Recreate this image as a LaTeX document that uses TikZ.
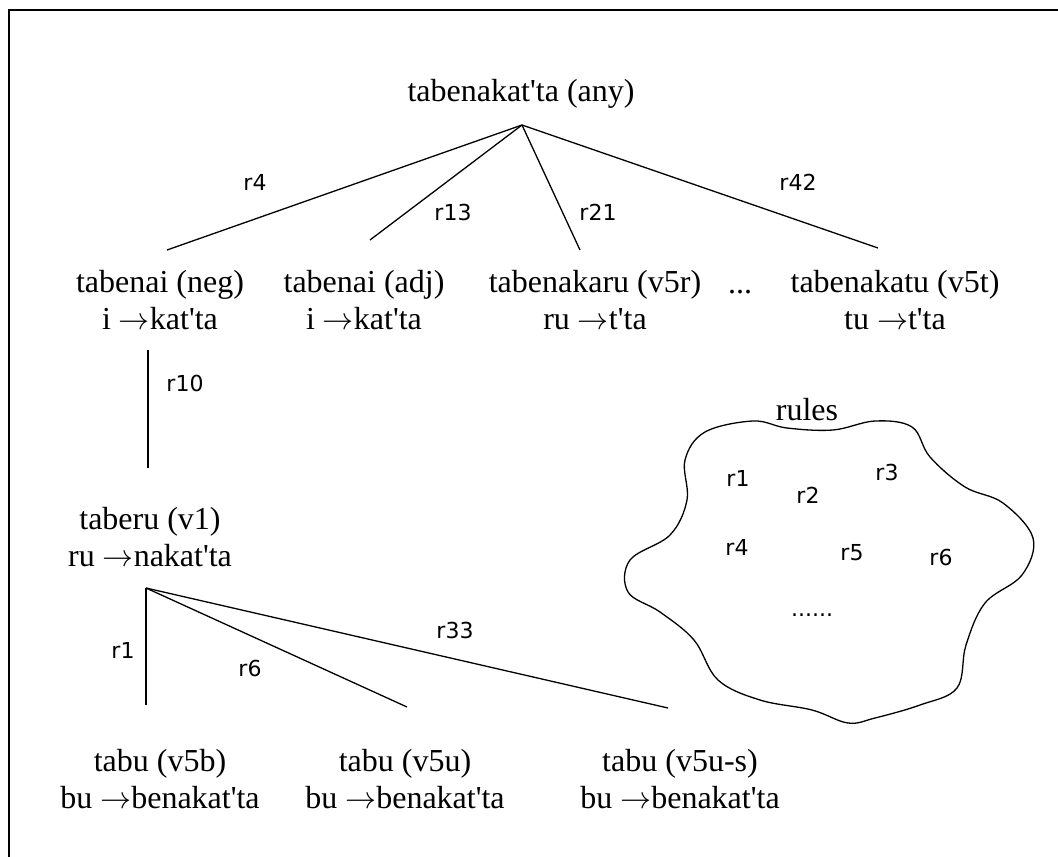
\documentclass[tikz,border=0pt]{standalone}
\usepackage{fontspec}
\setmainfont{Liberation Serif}[Ligatures=TeXOff]
\newfontfamily\rulefont{DejaVu Sans}
\newcommand{\becomes}{\scalebox{3.1}{\normalsize$\rightarrow$}}

\begin{document}
\begin{tikzpicture}[x=1pt, y=-1pt,
    word/.style={font=\fontsize{32}{37}\selectfont, align=center, inner sep=0pt},
    rname/.style={font=\rulefont\fontsize{22}{26}\selectfont, inner sep=0pt},
    branch/.style={line width=1.3pt}]
    \useasboundingbox (0,0) rectangle (1058,857);

    % frame (open on the right and at the bottom)
    \draw[line width=2.4pt] (9,857) -- (9,10) -- (1058,10);

    % Root form
    \node[word] (any) at (521,94) {tabenakat'ta (any)};
    \coordinate (top) at (522,125);

    % First level
    \node[word] (neg) at (160,300) {tabenai (neg)\\i \becomes kat'ta};
    \node[word] (adj) at (364,300) {tabenai (adj)\\i \becomes kat'ta};
    \node[word] (vfr) at (595,300) {tabenakaru (v5r)\\ru \becomes t'ta};
    \node[word] (dots) at (740,292) {...};
    \node[word] (vft) at (895,300) {tabenakatu (v5t)\\tu \becomes t'ta};

    \coordinate (negend) at (167,250);
    \coordinate (adjend) at (370,240);
    \coordinate (vfrend) at (580,250);
    \coordinate (vftend) at (878,248);
    \draw[branch] (top) -- (negend);
    \draw[branch] (top) -- (adjend);
    \draw[branch] (top) -- (vfrend);
    \draw[branch] (top) -- (vftend);
    \node[rname] (lfour) at (255,182) {r4};
    \node[rname] (lthirteen) at (453,212) {r13};
    \node[rname] (ltwentyone) at (598,212) {r21};
    \node[rname] (lfortytwo) at (798,182) {r42};

    % Second level
    \node[word] (vone) at (150,537) {taberu (v1)\\ru \becomes nakat'ta};
    \coordinate (negfoot) at (148,350);
    \coordinate (vonehead) at (148,468);
    \draw[branch] (negfoot) -- (vonehead);
    \node[rname] (lten) at (185,383) {r10};

    % Third level
    \coordinate (root2) at (146,588);
    \node[word] (vfb) at (160,779) {tabu (v5b)\\bu \becomes benakat'ta};
    \node[word] (vfu) at (405,779) {tabu (v5u)\\bu \becomes benakat'ta};
    \node[word] (vfus) at (680,779) {tabu (v5u-s)\\bu \becomes benakat'ta};

    \coordinate (vfbend) at (146,705);
    \coordinate (vfuend) at (407,707);
    \coordinate (vfusend) at (668,708);
    \draw[branch] (root2) -- (vfbend);
    \draw[branch] (root2) -- (vfuend);
    \draw[branch] (root2) -- (vfusend);
    \node[rname] (lone) at (123,650) {r1};
    \node[rname] (lsix) at (250,668) {r6};
    \node[rname] (lthirtythree) at (455,630) {r33};

    % Rule pool
    \node[word] (rules) at (807,410) {rules};
    \draw[line width=1.3pt] plot[smooth cycle, tension=0.6] coordinates {
        (753,421) (787,428) (833,430) (875,421) (912,427) (930,457)
        (965,487) (1003,503) (1033,538) (1022,575) (985,603) (966,645)
        (957,688) (920,705) (875,718) (848,723) (812,710) (760,700)
        (718,680) (694,640) (660,612) (628,592) (630,560) (670,535)
        (687,500) (685,460) (705,432)};
    \node[rname] (rone) at (738,478) {r1};
    \node[rname] (rtwo) at (808,495) {r2};
    \node[rname] (rthree) at (887,472) {r3};
    \node[rname] (rfour) at (737,547) {r4};
    \node[rname] (rfive) at (852,553) {r5};
    \node[rname] (rsix) at (941,557) {r6};
    \node[rname] (rmore) at (812,615) {......};
\end{tikzpicture}
\end{document}
